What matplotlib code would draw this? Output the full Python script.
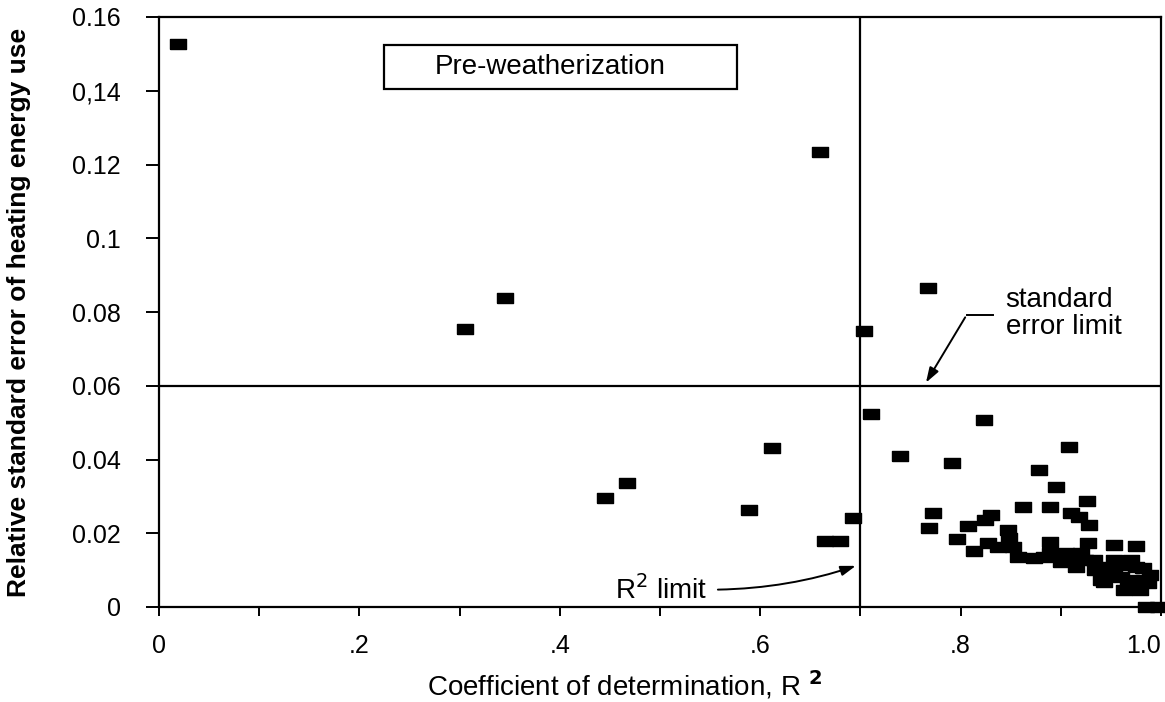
import numpy as np
import matplotlib
import matplotlib.pyplot as plt
from matplotlib.patches import Rectangle
matplotlib.use('Agg')

plt.rcParams['font.family'] = ['Liberation Sans', 'DejaVu Sans']
narrow = ['Liberation Sans Narrow', 'Liberation Sans', 'DejaVu Sans']

# points left of / above the limits
x_left = [0.019, 0.305, 0.345, 0.660, 0.704, 0.767, 0.445, 0.467, 0.612,
          0.589, 0.665, 0.680, 0.693]
y_left = [0.1527, 0.0754, 0.0838, 0.1234, 0.0749, 0.0865, 0.0296, 0.0336,
          0.0431, 0.0263, 0.0179, 0.0179, 0.0241]

# cluster in the lower right corner
x_right = [0.711, 0.740, 0.791, 0.823, 0.772, 0.768, 0.796, 0.807, 0.813,
           0.824, 0.830, 0.827, 0.837, 0.847, 0.848, 0.852, 0.857, 0.862,
           0.873, 0.878, 0.883, 0.889, 0.889, 0.889, 0.895, 0.900, 0.908,
           0.910, 0.918, 0.926, 0.928, 0.905, 0.910, 0.915, 0.927, 0.920,
           0.933, 0.940, 0.947, 0.943, 0.953, 0.953, 0.960, 0.967, 0.975,
           0.975, 0.982, 0.983, 0.987, 0.970, 0.963, 0.953, 0.940, 0.970,
           0.896, 0.924, 0.934, 0.959, 0.989, 0.979, 0.985, 0.997]
y_right = [0.0524, 0.0410, 0.0391, 0.0508, 0.0255, 0.0215, 0.0185, 0.0220,
           0.0152, 0.0236, 0.0250, 0.0174, 0.0163, 0.0209, 0.0187, 0.0163,
           0.0136, 0.0272, 0.0133, 0.0372, 0.0136, 0.0272, 0.0177, 0.0147,
           0.0326, 0.0122, 0.0435, 0.0255, 0.0245, 0.0288, 0.0223, 0.0147,
           0.0128, 0.0109, 0.0174, 0.0147, 0.0128, 0.0109, 0.0092, 0.0068,
           0.0168, 0.0109, 0.0082, 0.0054, 0.0166, 0.0109, 0.0106, 0.0073,
           0.0065, 0.0073, 0.0046, 0.0128, 0.0073, 0.0128, 0.0138, 0.0127,
           0.0100, 0.0114, 0.0087, 0.0046, 0.0, 0.0]

r2_limit = 0.7
se_limit = 0.06

x_ticks = [0, 0.1, 0.2, 0.3, 0.4, 0.5, 0.6, 0.7, 0.8, 0.9, 1.0]
x_ticklabels = ['0', '', '.2', '', '.4', '', '.6', '', '.8', '', '1.0']
y_ticks = [0, 0.02, 0.04, 0.06, 0.08, 0.1, 0.12, 0.14, 0.16]
y_ticklabels = ['0', '0.02', '0.04', '0.06', '0.08', '0.1', '0.12', '0,14', '0.16']

fig = plt.figure(figsize=(11.65, 7.02), dpi=100)
ax = fig.add_axes([159 / 1165, 95 / 702, 1002 / 1165, 590 / 702])

rect = [(-1.5, -1), (1.5, -1), (1.5, 1), (-1.5, 1), (-1.5, -1)]
ax.plot(x_left + x_right, y_left + y_right, linestyle='none', marker=rect,
        markersize=11, color='black', clip_on=False, zorder=3)

ax.axvline(r2_limit, color='black', lw=1.6)
ax.axhline(se_limit, color='black', lw=1.6)

ax.set_xlim(0, 1.0)
ax.set_ylim(0, 0.16)
ax.set_xticks(x_ticks)
ax.set_xticklabels(x_ticklabels, fontsize=18, family=narrow)
ax.set_yticks(y_ticks)
ax.set_yticklabels(y_ticklabels, fontsize=18)
ax.get_xticklabels()[-1].set_horizontalalignment('right')
ax.tick_params(axis='x', direction='out', length=6.5, width=1.4, pad=13)
ax.tick_params(axis='y', direction='out', length=9.5, width=1.4, pad=18)
for s in ax.spines.values():
    s.set_linewidth(1.6)

ax.set_xlabel('Coefficient of determination, R $^{\\mathbf{2}}$', fontsize=20,
              family=narrow)
ax.xaxis.set_label_coords(0.465, -0.105)
ax.set_ylabel('Relative standard error of heating energy use', fontsize=19,
              fontweight='bold')
ax.yaxis.set_label_coords(-0.128, 0.5)

# label box
ax.add_patch(Rectangle((0.2245, 0.1405), 0.3525, 0.0119, fill=False,
                       ec='black', lw=1.6, zorder=4))
ax.text(0.39, 0.1465, 'Pre-weatherization', fontsize=20, ha='center',
        va='center')

ax.text(0.845, 0.0795, 'standard\nerror limit', fontsize=20, ha='left',
        va='center', linespacing=1.05)
ax.plot([0.832, 0.806], [0.0792, 0.0792], color='black', lw=1.4)
ax.annotate('', xy=(0.764, 0.0602), xytext=(0.806, 0.0792),
            arrowprops=dict(arrowstyle='-|>,head_length=0.9,head_width=0.3',
                            color='black', lw=1.4))

ax.text(0.455, 0.0047, 'R$^2$ limit', fontsize=20, ha='left', va='center')
ax.annotate('', xy=(0.698, 0.0114), xytext=(0.555, 0.0047),
            arrowprops=dict(arrowstyle='-|>,head_length=0.9,head_width=0.3',
                            connectionstyle='arc3,rad=0.08',
                            color='black', lw=1.4))

fig.savefig('out.png', dpi=100)
